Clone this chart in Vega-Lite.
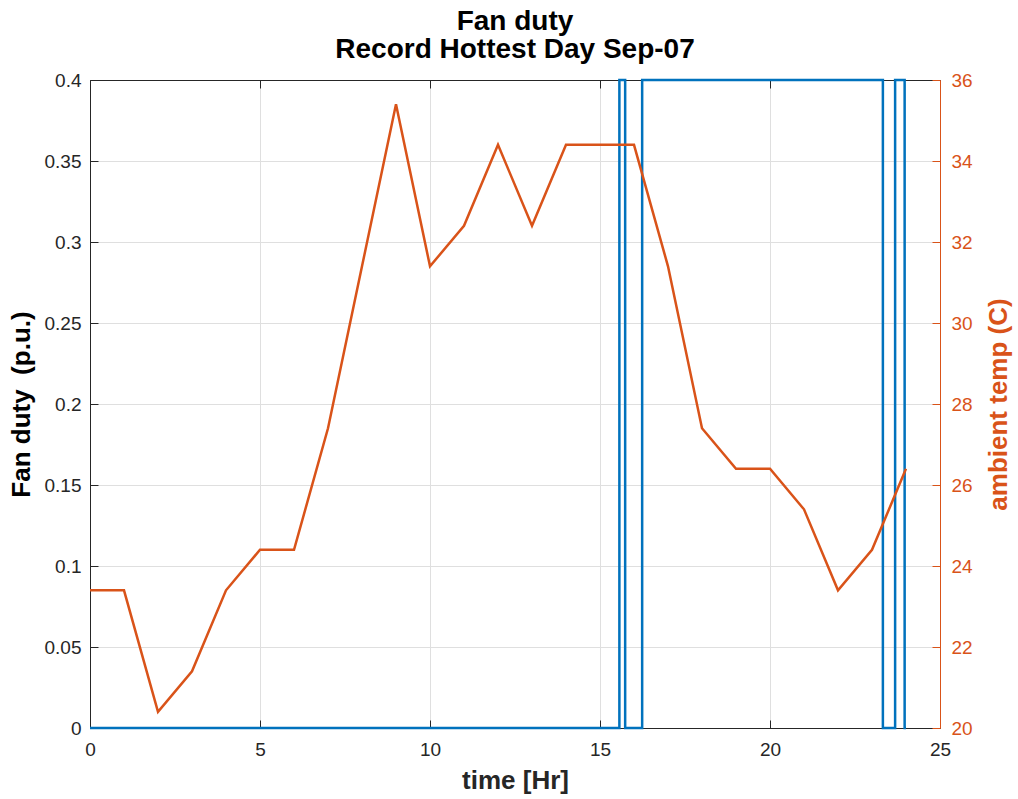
{
  "$schema": "https://vega.github.io/schema/vega-lite/v6.json",
  "width": 850,
  "height": 648,
  "autosize": {"type": "none"},
  "padding": {"left": 90, "top": 80, "right": 78, "bottom": 71},
  "background": "white",
  "config": {
    "font": "Liberation Sans",
    "view": {"stroke": "#262626", "strokeWidth": 1},
    "axis": {"labelFont": "Liberation Sans", "titleFont": "Liberation Sans"}
  },
  "title": {
    "text": ["Fan duty", "Record Hottest Day Sep-07"],
    "fontSize": 28,
    "fontWeight": "bold",
    "color": "#000000",
    "anchor": "middle",
    "lineHeight": 28,
    "offset": 7
  },
  "datasets": {
    "duty": [
      {"t": 0, "duty": 0},
      {"t": 15.57, "duty": 0},
      {"t": 15.57, "duty": 0.4},
      {"t": 15.74, "duty": 0.4},
      {"t": 15.74, "duty": 0},
      {"t": 16.24, "duty": 0},
      {"t": 16.24, "duty": 0.4},
      {"t": 23.32, "duty": 0.4},
      {"t": 23.32, "duty": 0},
      {"t": 23.68, "duty": 0},
      {"t": 23.68, "duty": 0.4},
      {"t": 23.96, "duty": 0.4},
      {"t": 23.96, "duty": 0},
      {"t": 24.0, "duty": 0}
    ],
    "temp": [
      {"t": 0, "temp": 23.4}, {"t": 1, "temp": 23.4}, {"t": 2, "temp": 20.4},
      {"t": 3, "temp": 21.4}, {"t": 4, "temp": 23.4}, {"t": 5, "temp": 24.4},
      {"t": 6, "temp": 24.4}, {"t": 7, "temp": 27.4}, {"t": 8, "temp": 31.4},
      {"t": 9, "temp": 35.4}, {"t": 10, "temp": 31.4}, {"t": 11, "temp": 32.4},
      {"t": 12, "temp": 34.4}, {"t": 13, "temp": 32.4}, {"t": 14, "temp": 34.4},
      {"t": 15, "temp": 34.4}, {"t": 16, "temp": 34.4}, {"t": 17, "temp": 31.4},
      {"t": 18, "temp": 27.4}, {"t": 19, "temp": 26.4}, {"t": 20, "temp": 26.4},
      {"t": 21, "temp": 25.4}, {"t": 22, "temp": 23.4}, {"t": 23, "temp": 24.4},
      {"t": 24, "temp": 26.4}
    ]
  },
  "layer": [
    {
      "data": {"name": "duty"},
      "mark": {"type": "line", "color": "#0072BD", "strokeWidth": 2.5, "clip": false},
      "encoding": {
        "x": {
          "field": "t", "type": "quantitative",
          "scale": {"domain": [0, 25], "nice": false, "zero": false},
          "axis": {
            "title": "time [Hr]", "titleFontSize": 26, "titleFontWeight": "bold", "titleColor": "#262626",
            "titlePadding": 8,
            "values": [0, 5, 10, 15, 20, 25],
            "labelFontSize": 19, "labelColor": "#262626", "labelPadding": 20, "labelFlush": false,
            "tickSize": -8, "tickColor": "#262626", "domainColor": "#262626",
            "grid": true, "gridColor": "#dfdfdf"
          }
        },
        "y": {
          "field": "duty", "type": "quantitative",
          "scale": {"domain": [0, 0.4], "nice": false},
          "axis": {
            "title": "Fan duty \u00a0(p.u.)", "titleFontSize": 26, "titleFontWeight": "bold", "titleColor": "#000000",
            "titlePadding": 10,
            "values": [0, 0.05, 0.1, 0.15, 0.2, 0.25, 0.3, 0.35, 0.4],
            "format": ".2~f",
            "labelFontSize": 19, "labelColor": "#262626", "labelPadding": 17, "labelFlush": false,
            "tickSize": -8, "tickColor": "#262626", "domainColor": "#262626",
            "grid": true, "gridColor": "#dfdfdf"
          }
        }
      }
    },
    {
      "data": {"name": "temp"},
      "mark": {"type": "line", "color": "#D95319", "strokeWidth": 2.5},
      "encoding": {
        "x": {
          "field": "t", "type": "quantitative",
          "axis": {
            "orient": "top", "title": null, "labels": false,
            "values": [0, 5, 10, 15, 20, 25],
            "tickSize": -8, "tickColor": "#262626", "domainColor": "#262626",
            "grid": false
          }
        },
        "y": {
          "field": "temp", "type": "quantitative",
          "scale": {"domain": [20, 36], "nice": false, "zero": false},
          "axis": {
            "orient": "right",
            "title": "ambient temp (C)", "titleFontSize": 26, "titleFontWeight": "bold", "titleColor": "#D95319",
            "titleAngle": 270, "titlePadding": 39,
            "values": [20, 22, 24, 26, 28, 30, 32, 34, 36],
            "labelFontSize": 19, "labelColor": "#D95319", "labelPadding": 19, "labelFlush": false,
            "tickSize": -8, "tickColor": "#D95319", "domainColor": "#D95319",
            "grid": false
          }
        }
      }
    }
  ],
  "resolve": {"scale": {"y": "independent"}, "axis": {"x": "independent"}}
}
